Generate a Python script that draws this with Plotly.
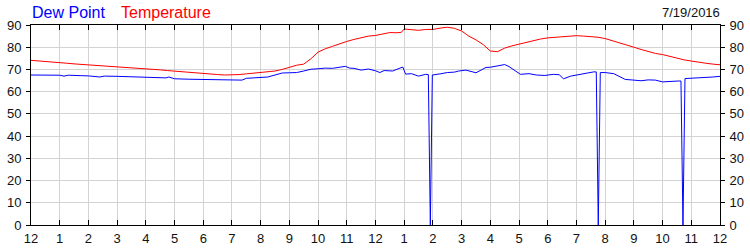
import plotly.graph_objects as go

# Temperature (deg F) vs hour of day
temp_hours = [0.00, 0.25, 0.50, 0.75, 1.00, 1.25, 1.50, 1.75, 2.00, 2.25, 2.50, 2.75,
              3.00, 3.25, 3.50, 3.75, 4.00, 4.25, 4.50, 4.75, 5.00, 5.25, 5.50, 5.75,
              6.00, 6.25, 6.50, 6.75, 7.00, 7.25, 7.50, 7.75, 8.00, 8.25, 8.50, 8.75,
              9.00, 9.25, 9.50, 9.75, 10.00, 10.25, 10.50, 10.75, 11.00, 11.25, 11.50, 11.75,
              12.00, 12.25, 12.50, 12.75, 12.90, 13.00, 13.25, 13.50, 13.75, 14.00, 14.25, 14.50,
              14.75, 15.00, 15.25, 15.50, 15.75, 16.00, 16.25, 16.50, 16.75, 17.00, 17.25, 17.50,
              17.75, 18.00, 18.25, 18.50, 18.75, 19.00, 19.25, 19.50, 19.75, 20.00, 20.25, 20.50,
              20.75, 21.00, 21.25, 21.50, 21.75, 22.00, 22.25, 22.50, 22.75, 23.00, 23.25, 23.50,
              23.75, 24.00]
temp_values = [74.1, 73.9, 73.6, 73.3, 73.0, 72.8, 72.5, 72.3, 72.1, 71.8, 71.6, 71.4,
               71.2, 71.0, 70.8, 70.5, 70.2, 70.0, 69.8, 69.5, 69.2, 69.0, 68.8, 68.6,
               68.3, 68.0, 67.7, 67.5, 67.5, 67.7, 68.0, 68.3, 68.6, 69.0, 69.3, 70.0,
               71.0, 71.9, 72.4, 74.8, 77.8, 79.3, 80.4, 81.6, 82.6, 83.5, 84.3, 85.0,
               85.3, 85.8, 86.6, 86.5, 86.7, 88.2, 88.0, 87.6, 88.0, 88.0, 88.6, 89.0,
               88.5, 87.3, 85.0, 83.3, 81.2, 78.3, 78.0, 79.6, 80.6, 81.4, 82.2, 83.0,
               83.7, 84.2, 84.5, 84.7, 85.0, 85.2, 85.0, 84.9, 84.5, 83.9, 83.0, 81.9,
               81.0, 80.0, 79.0, 78.0, 77.2, 76.7, 75.8, 75.0, 74.3, 73.8, 73.2, 72.8,
               72.4, 72.1]

# Dew point (deg F) vs hour of day
dew_hours = [0.00, 0.50, 1.00, 1.15, 1.30, 1.75, 2.00, 2.40, 2.55, 3.00, 3.50, 4.00,
             4.50, 4.70, 4.80, 5.00, 5.50, 6.00, 6.50, 7.00, 7.35, 7.50, 8.00, 8.25,
             8.50, 8.75, 9.00, 9.25, 9.50, 9.75, 10.00, 10.25, 10.50, 10.75, 10.95, 11.10,
             11.25, 11.50, 11.75, 12.00, 12.15, 12.30, 12.60, 12.95, 13.05, 13.25, 13.50, 13.75,
             13.84, 13.91, 13.98, 14.25, 14.50, 14.75, 14.90, 15.15, 15.50, 15.85, 16.00, 16.30,
             16.50, 16.65, 16.90, 17.05, 17.35, 17.60, 17.90, 18.20, 18.40, 18.55, 18.80, 19.10,
             19.35, 19.60, 19.69, 19.76, 19.83, 20.00, 20.30, 20.50, 20.70, 21.00, 21.25, 21.50,
             21.75, 22.00, 22.25, 22.55, 22.64, 22.71, 22.78, 23.00, 23.30, 23.75, 24.00]
dew_values = [67.5, 67.5, 67.4, 67.0, 67.4, 67.2, 67.1, 66.6, 67.0, 66.9, 66.7, 66.5,
              66.3, 66.2, 66.6, 65.8, 65.6, 65.5, 65.2, 65.1, 65.2, 66.0, 66.2, 66.6,
              67.5, 68.4, 68.5, 68.6, 69.3, 70.1, 70.3, 70.6, 70.5, 71.0, 71.4, 70.6,
              70.5, 69.7, 70.2, 69.4, 68.6, 69.5, 69.3, 71.1, 67.9, 68.1, 67.0, 67.8,
              67.7, 0.0, 67.5, 68.0, 68.6, 68.8, 69.3, 69.7, 68.5, 70.9, 71.0, 71.7,
              72.2, 71.3, 69.2, 67.8, 68.1, 67.5, 67.3, 67.8, 67.6, 65.8, 67.0, 67.8,
              68.4, 68.9, 68.9, 0.0, 68.6, 68.6, 68.1, 66.8, 65.5, 65.2, 64.9, 65.3,
              65.2, 64.4, 64.7, 64.8, 64.8, 0.0, 65.9, 66.0, 66.1, 66.6, 66.9]

x_tick_vals = list(range(0, 25))
x_tick_text = ["12", "1", "2", "3", "4", "5", "6", "7", "8", "9", "10", "11",
               "12", "1", "2", "3", "4", "5", "6", "7", "8", "9", "10", "11", "12"]
y_tick_vals = [0, 10, 20, 30, 40, 50, 60, 70, 80, 90]

fig = go.Figure()
fig.add_trace(go.Scatter(x=dew_hours, y=dew_values, mode="lines",
                         line=dict(color="#0000ff", width=1), name="Dew Point", yaxis="y"))
fig.add_trace(go.Scatter(x=temp_hours, y=temp_values, mode="lines",
                         line=dict(color="#ff0000", width=1), name="Temperature", yaxis="y2"))

axis_font = dict(family="Liberation Sans, Arial, sans-serif", size=13, color="#111111")

fig.update_layout(
    width=750, height=250,
    margin=dict(l=31, r=30, t=25, b=25),
    plot_bgcolor="white", paper_bgcolor="white",
    showlegend=False,
    font=axis_font,
    xaxis=dict(range=[0, 24], tickvals=x_tick_vals, ticktext=x_tick_text,
               ticks="inside", ticklen=5, tickcolor="black", tickwidth=1,
               showline=True, linecolor="black", linewidth=1, mirror="ticks",
               showgrid=True, gridcolor="#d3d3d3", gridwidth=1, zeroline=False,
               tickfont=axis_font, ticklabelstandoff=1, automargin=False),
    yaxis=dict(range=[0, 90], tickvals=y_tick_vals,
               ticks="outside", ticklen=4, tickcolor="black",
               showline=True, linecolor="black", linewidth=1,
               showgrid=True, gridcolor="#d3d3d3", gridwidth=1, zeroline=False,
               tickfont=axis_font, ticklabelstandoff=2, automargin=False),
    yaxis2=dict(range=[0, 90], tickvals=y_tick_vals, overlaying="y", side="right",
                ticks="outside", ticklen=4, tickcolor="black",
                showline=True, linecolor="black", linewidth=1,
                showgrid=False, zeroline=False, tickfont=axis_font, ticklabelstandoff=2,
                automargin=False),
    annotations=[
        dict(text="Dew Point", xref="paper", yref="paper", x=(30 - 31) / 689, y=1.065,
             xanchor="left", yanchor="middle", showarrow=False,
             font=dict(family="Liberation Sans, Arial, sans-serif", size=16, color="#0000ff")),
        dict(text="Temperature", xref="paper", yref="paper", x=(119 - 31) / 689, y=1.065,
             xanchor="left", yanchor="middle", showarrow=False,
             font=dict(family="Liberation Sans, Arial, sans-serif", size=16, color="#ff0000")),
        dict(text="7/19/2016", xref="paper", yref="paper", x=(722 - 31) / 689, y=1.06,
             xanchor="right", yanchor="middle", showarrow=False,
             font=dict(family="Liberation Sans, Arial, sans-serif", size=13, color="#111111")),
    ],
)

fig.write_html("out.html")
